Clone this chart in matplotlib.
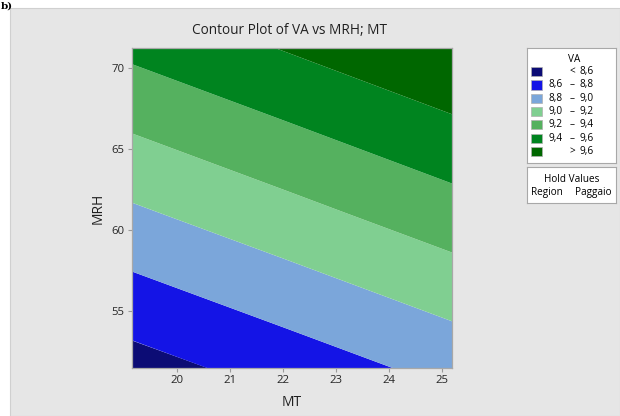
import numpy as np
import matplotlib
matplotlib.use("Agg")
import matplotlib.pyplot as plt
from matplotlib.patches import Rectangle

# fitted response (VA at grid corners)
MT_GRID  = [19.0, 22.0, 25.5]
MRH_GRID = [51.0, 61.0, 71.5]
VA_GRID  = [[8.49, 8.66, 8.86],
            [8.96, 9.13, 9.33],
            [9.45, 9.62, 9.82]]
LEVELS   = [8.6, 8.8, 9.0, 9.2, 9.4, 9.6]
COLORS   = ["#0C0C75", "#1414E6", "#7BA6DA", "#80CF91",
            "#55B15F", "#00841F", "#006700"]
X_TICKS  = [20, 21, 22, 23, 24, 25]
Y_TICKS  = [55, 60, 65, 70]

plt.rcParams["font.family"] = ["Open Sans", "DejaVu Sans"]

W, H = 620, 416
fig = plt.figure(figsize=(W / 100, H / 100), dpi=100)
fig.patch.set_facecolor("white")

# grey panel behind everything
fig.patches.append(Rectangle((10 / W, 0), 1 - 10 / W, 1 - 8 / H,
                             transform=fig.transFigure, facecolor="#E6E6E6",
                             edgecolor="#D0D0D0", linewidth=0.8, zorder=-10))
fig.text(1 / W, 1 - 8.5 / H, "b)", family="DejaVu Serif", fontweight="bold",
         fontsize=7.5, va="baseline", ha="left")


def px_axes(x0, y0, x1, y1):
    return fig.add_axes([x0 / W, 1 - y1 / H, (x1 - x0) / W, (y1 - y0) / H])


# ── contour plot ──────────────────────────────────────────────
ax = px_axes(131.5, 48.3, 451.7, 368.3)
va = np.array(VA_GRID)
bounds = [va.min() - 1] + LEVELS + [va.max() + 1]
ax.contourf(MT_GRID, MRH_GRID, va, levels=bounds, colors=COLORS, antialiased=True)
ax.set_xlim(19.13, 25.19)
ax.set_ylim(51.44, 71.24)
ax.set_xticks(X_TICKS)
ax.set_yticks(Y_TICKS)
ax.tick_params(direction="out", length=3, color="#9A9A9A", labelsize=8.2,
               labelcolor="#262626", pad=2)
for s in ax.spines.values():
    s.set_color("#A8A8A8")
    s.set_linewidth(0.9)
ax.set_xlabel("MT", fontsize=10, labelpad=6, color="#202020")
ax.set_ylabel("MRH", fontsize=10, labelpad=4, color="#202020")
fig.text(290 / W, 1 - 30.5 / H, "Contour Plot of VA vs MRH; MT", fontsize=9.8,
         ha="center", va="center", color="#202020")

# ── legend boxes ──────────────────────────────────────────────
FS = 7.2
leg = px_axes(527, 48.3, 616, 163.3)
leg.set_xlim(527, 616)
leg.set_ylim(163.3, 48.3)
leg.set_xticks([])
leg.set_yticks([])
for s in leg.spines.values():
    s.set_color("#A8A8A8")
leg.text(574, 60, "VA", fontsize=FS, ha="center", va="center")

labels = [("", "<", f"{LEVELS[0]:.1f}")]
for lo, hi in zip(LEVELS[:-1], LEVELS[1:]):
    labels.append((f"{lo:.1f}", "–", f"{hi:.1f}"))
labels.append(("", ">", f"{LEVELS[-1]:.1f}"))

for i, (c, (lo, mid, hi)) in enumerate(zip(COLORS, labels)):
    yc = 71.7 + i * 13.3
    leg.add_patch(Rectangle((530.5, yc - 4.6), 11, 9.2, facecolor=c,
                            edgecolor="#B0B0B0", linewidth=0.5))
    leg.text(548.5, yc, lo.replace(".", ","), fontsize=FS, ha="left", va="center")
    leg.text(572, yc, mid, fontsize=FS, ha="center", va="center")
    leg.text(594, yc, hi.replace(".", ","), fontsize=FS, ha="right", va="center")

hold = px_axes(527, 167.3, 616, 202.7)
hold.set_xlim(527, 616)
hold.set_ylim(202.7, 167.3)
hold.set_xticks([])
hold.set_yticks([])
for s in hold.spines.values():
    s.set_color("#A8A8A8")
hold.text(572, 179, "Hold Values", fontsize=FS, ha="center", va="center")
hold.text(531, 193, "Region", fontsize=FS, ha="left", va="center")
hold.text(611, 193, "Paggaio", fontsize=FS, ha="right", va="center")

fig.savefig("out.png", dpi=100)
